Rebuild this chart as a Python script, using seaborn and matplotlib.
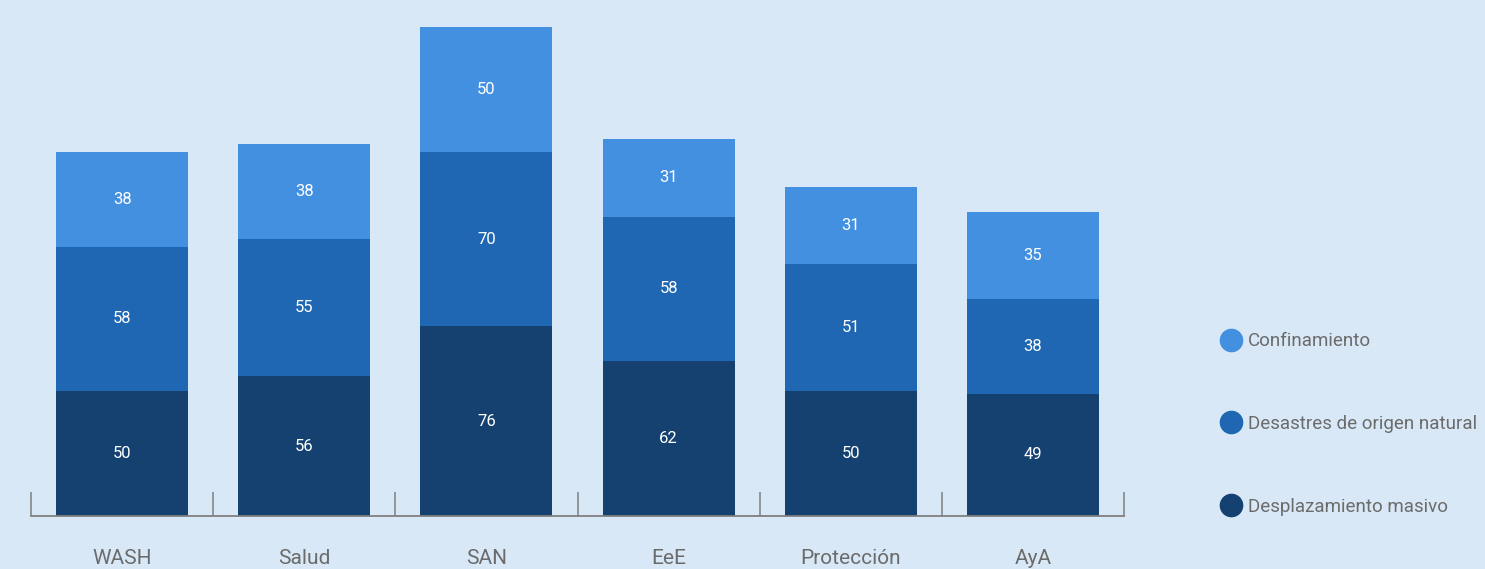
import numpy as np
import pandas as pd
import seaborn as sns
import matplotlib.pyplot as plt
from matplotlib.lines import Line2D

# data
sectores = ["WASH", "Salud", "SAN", "EeE", "Protección", "AyA"]
desplazamiento = [50, 56, 76, 62, 50, 49]
desastres = [58, 55, 70, 58, 51, 38]
confinamiento = [38, 38, 50, 31, 31, 35]
series_names = ["Confinamiento", "Desastres de origen natural", "Desplazamiento masivo"]

bg = "#d9e8f6"
c_conf = "#4390e0"
c_des = "#1f67b2"
c_dm = "#144170"
grey = "#6b6b6b"

sns.set_theme(style="white")
plt.rcParams["font.family"] = ["Roboto", "DejaVu Sans"]

df = pd.DataFrame({"sector": sectores,
                   "dm": desplazamiento,
                   "des": desastres,
                   "conf": confinamiento})
df["lvl2"] = df["dm"] + df["des"]
df["total"] = df["lvl2"] + df["conf"]

fig = plt.figure(figsize=(14.85, 5.69), dpi=100, facecolor=bg)
ax = fig.add_axes([31 / 1485, 53 / 569, (1124 - 31) / 1485, 499 / 569])
ax.set_facecolor(bg)

# stacked by drawing cumulative totals back to front
for col, c in [("total", c_conf), ("lvl2", c_des), ("dm", c_dm)]:
    sns.barplot(data=df, x="sector", y=col, color=c, width=0.725,
                saturation=1, linewidth=0, edgecolor="none", ax=ax)

for i, row in df.iterrows():
    ax.text(i, row["dm"] / 2, str(row["dm"]), ha="center", va="center",
            color="white", fontsize=12)
    ax.text(i, row["dm"] + row["des"] / 2, str(row["des"]), ha="center",
            va="center", color="white", fontsize=12)
    ax.text(i, row["lvl2"] + row["conf"] / 2, str(row["conf"]), ha="center",
            va="center", color="white", fontsize=12)

ax.set_xlim(-0.5, len(sectores) - 0.5)
ax.set_ylim(0, 200)
ax.set_xlabel("")
ax.set_ylabel("")
ax.set_yticks([])
sns.despine(ax=ax, left=True)
ax.spines["bottom"].set_color("#7f7f7f")
ax.spines["bottom"].set_linewidth(1.3)

ax.set_xticks(np.arange(-0.5, len(sectores)), minor=True)
ax.tick_params(axis="x", which="minor", direction="in", length=17,
               width=1.1, color="#7f7f7f", bottom=True)
ax.tick_params(axis="x", which="major", length=0, pad=23.5,
               labelsize=15, labelcolor=grey)

handles = [Line2D([], [], marker="o", linestyle="", markersize=16, color=c)
           for c in [c_conf, c_des, c_dm]]
fig.legend(handles, series_names, loc="center left",
           bbox_to_anchor=(1212 / 1485, 1 - 424 / 569), frameon=False,
           labelspacing=3.45, handletextpad=0.3, fontsize=13.5,
           labelcolor=grey, borderaxespad=0, handlelength=1.2)

fig.savefig("out.png", dpi=100, facecolor=bg)
